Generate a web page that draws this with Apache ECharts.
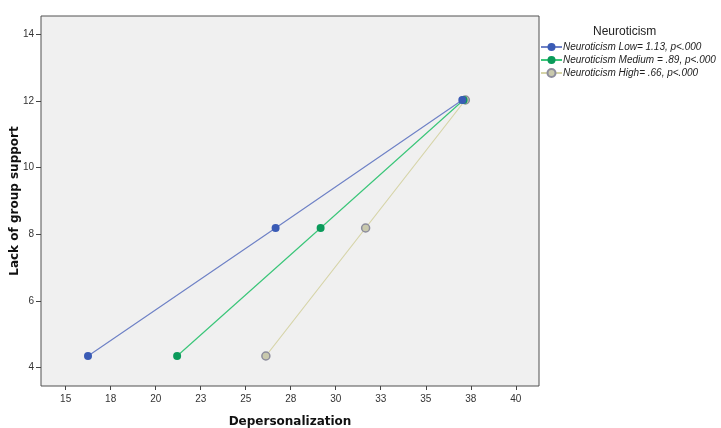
<!DOCTYPE html>
<html>
<head>
<meta charset="utf-8">
<script src="https://cdn.jsdelivr.net/npm/echarts@6/dist/echarts.min.js"></script>
<style>html,body{margin:0;padding:0;background:#fff}#c{width:721px;height:428px}</style>
</head>
<body>
<div id="c"></div>
<script>
var seriesNames = ['Neuroticism Low= 1.13, p<.000', 'Neuroticism Medium = .89, p<.000', 'Neuroticism High= .66, p<.000'];
var lowX = [16.24, 26.66, 37.03];
var lowY = [4.35, 8.19, 12.03];
var medX = [21.19, 29.16, 37.10];
var medY = [4.35, 8.19, 12.03];
var highX = [26.12, 31.66, 37.20];
var highY = [4.35, 8.19, 12.03];
var xTicks = [15, 17.5, 20, 22.5, 25, 27.5, 30, 32.5, 35, 37.5, 40];
var yTicks = [4, 6, 8, 10, 12, 14];

function pts(xs, ys) { return xs.map(function (x, i) { return [x, ys[i]]; }); }

var chart = echarts.init(document.getElementById('c'));
var lineColors = ['#6f82c6', '#3cc67a', '#d6d4a8'];
var dotColors = ['#3a5bb5', '#0a9a5a', '#c9c9ad'];
var dotBorders = ['#3a5bb5', '#0a9a5a', '#8d8d9c'];
var sets = [pts(lowX, lowY), pts(medX, medY), pts(highX, highY)];

chart.setOption({
  animation: false,
  backgroundColor: '#ffffff',
  title: {
    text: 'Neuroticism', left: 593, top: 26, padding: 0,
    textStyle: { fontFamily: 'Liberation Sans', fontSize: 12, fontWeight: 'normal', color: '#222' }
  },
  legend: {
    orient: 'vertical', left: 540, top: 42, itemWidth: 21, itemHeight: 10, itemGap: 3, padding: 0,
    data: seriesNames,
    textStyle: { fontFamily: 'Liberation Sans', fontSize: 10, fontStyle: 'italic', color: '#222', padding: [0, 0, 0, -4] }
  },
  grid: {
    left: 41, right: 182, top: 16, bottom: 42, show: true, outerBoundsMode: 'none', containLabel: false,
    backgroundColor: '#f0f0f0', borderColor: '#505050', borderWidth: 1
  },
  xAxis: {
    type: 'value', min: 13.63, max: 41.29,
    name: 'Depersonalization', nameLocation: 'middle', nameGap: 30, nameMoveOverlap: false,
    nameTextStyle: { fontFamily: 'DejaVu Sans', fontSize: 12, fontWeight: 'bold', color: '#111' },
    axisLine: { show: false },
    splitLine: { show: false },
    axisTick: { show: true, length: 4, customValues: xTicks, lineStyle: { color: '#444' } },
    axisLabel: {
      customValues: xTicks, margin: 8, color: '#333', fontFamily: 'Liberation Sans', fontSize: 10,
      formatter: function (v) { return String(Math.round(v)); }
    }
  },
  yAxis: {
    type: 'value', min: 3.45, max: 14.55,
    name: 'Lack of group support', nameLocation: 'middle', nameGap: 20, nameMoveOverlap: false,
    nameTextStyle: { fontFamily: 'DejaVu Sans', fontSize: 12, fontWeight: 'bold', color: '#111' },
    axisLine: { show: false },
    splitLine: { show: false },
    axisTick: { show: true, length: 5, customValues: yTicks, lineStyle: { color: '#444' } },
    axisLabel: {
      customValues: yTicks, margin: 7, color: '#333', fontFamily: 'Liberation Sans', fontSize: 10
    }
  },
  series: seriesNames.map(function (n, i) {
    return {
      name: n, type: 'line', data: sets[i], symbol: 'circle', symbolSize: 8,
      lineStyle: { color: lineColors[i], width: 1.2 },
      itemStyle: { color: dotColors[i], borderColor: dotBorders[i], borderWidth: i === 2 ? 1.5 : 0 },
      z: 3 - i
    };
  })
});
</script>
</body>
</html>
